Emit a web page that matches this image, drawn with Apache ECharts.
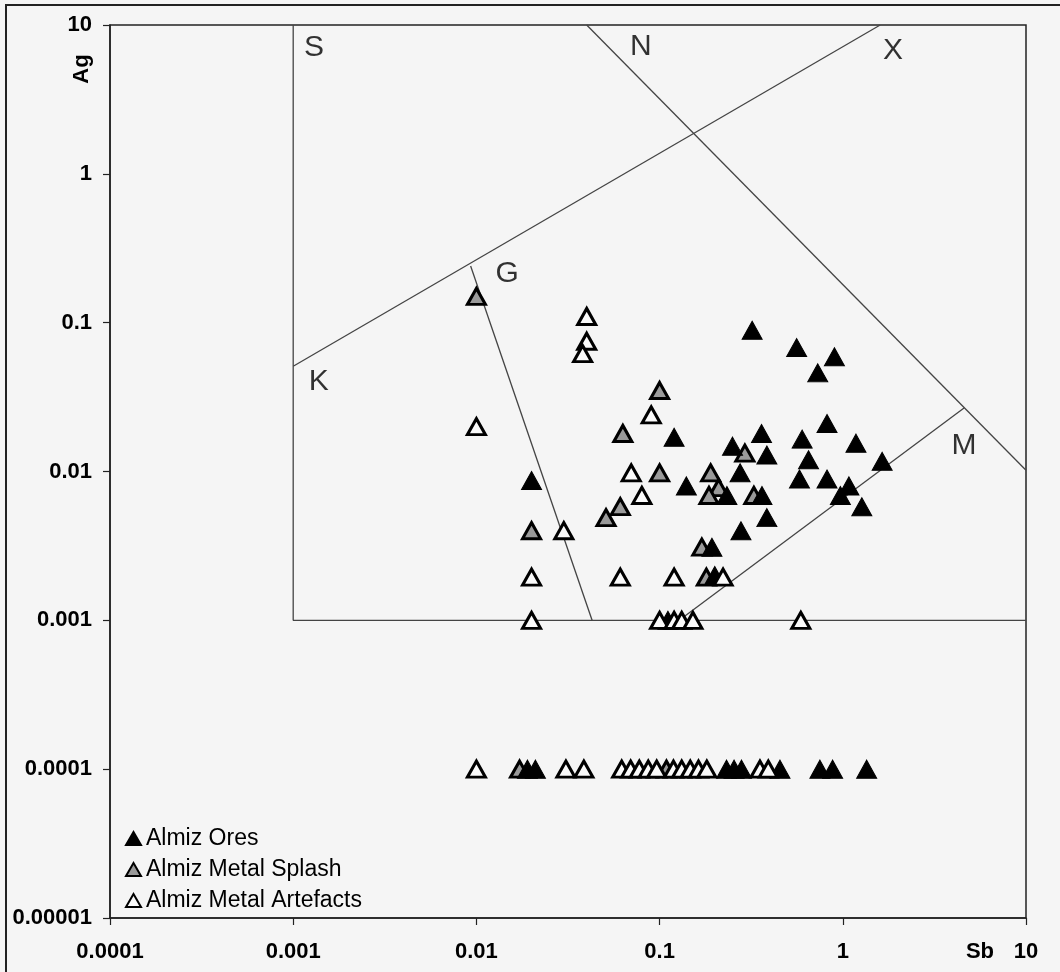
<!DOCTYPE html>
<html>
<head>
<meta charset="utf-8">
<script src="https://cdn.jsdelivr.net/npm/echarts@6/dist/echarts.min.js"></script>
<style>
html,body{margin:0;padding:0;background:#f5f5f5;}
#chart{width:1060px;height:972px;}
</style>
</head>
<body>
<div id="chart"></div>
<script>
// ---- tick labels ----
var xTickLabels = ['0.0001', '0.001', '0.01', '0.1', '1', '10'];
var yTickLabels = ['0.00001', '0.0001', '0.001', '0.01', '0.1', '1', '10'];

// ---- Almiz Ores (Sb, Ag) ----
var oresSb = [0.32, 0.56, 0.9, 0.73, 0.82, 0.36, 0.6, 1.18, 0.12, 0.25, 0.385, 0.65, 1.64,
  0.275, 0.58, 0.82, 1.08, 0.97, 1.27, 0.14, 0.233, 0.362, 0.385, 0.278, 0.193, 0.2, 0.02, 0.111,
  0.019, 0.021, 0.232, 0.255, 0.28, 0.454, 0.75, 0.88, 1.35];
var oresAg = [0.089, 0.068, 0.059, 0.046, 0.021, 0.018, 0.0165, 0.0155, 0.017, 0.0148, 0.0129, 0.012, 0.0117,
  0.0098, 0.0089, 0.0089, 0.008, 0.0069, 0.0058, 0.008, 0.0069, 0.0069, 0.0049, 0.004, 0.0031, 0.002, 0.0087, 0.001,
  0.0001, 0.0001, 0.0001, 0.0001, 0.0001, 0.0001, 0.0001, 0.0001, 0.0001];

// ---- Almiz Metal Splash (Sb, Ag) ----
var splashSb = [0.01, 0.1, 0.063, 0.292, 0.19, 0.1, 0.21, 0.186, 0.327, 0.061, 0.051, 0.02, 0.17, 0.18,
  0.0172, 0.109];
var splashAg = [0.15, 0.035, 0.018, 0.0133, 0.0098, 0.0098, 0.0078, 0.0069, 0.0069, 0.0058, 0.0049, 0.004, 0.0031, 0.00195,
  0.0001, 0.0001];

// ---- Almiz Metal Artefacts (Sb, Ag) ----
var artefactsSb = [0.04, 0.04, 0.038, 0.09, 0.01, 0.07, 0.08, 0.03, 0.02, 0.061, 0.12, 0.222,
  0.02, 0.1, 0.12, 0.132, 0.152, 0.59,
  0.01, 0.0308, 0.0386, 0.0621, 0.0695, 0.0775, 0.0867, 0.0964, 0.119, 0.132, 0.147, 0.163, 0.181, 0.353, 0.392];
var artefactsAg = [0.11, 0.075, 0.062, 0.024, 0.02, 0.0098, 0.0069, 0.004, 0.00195, 0.00195, 0.00195, 0.00195,
  0.001, 0.001, 0.001, 0.001, 0.001, 0.001,
  0.0001, 0.0001, 0.0001, 0.0001, 0.0001, 0.0001, 0.0001, 0.0001, 0.0001, 0.0001, 0.0001, 0.0001, 0.0001, 0.0001, 0.0001];

// ---- field boundaries (Sb, Ag) ----
var boundaryS = [[0.001, 10], [0.001, 0.001], [10, 0.001]];
var boundaryKX = [[0.001, 0.051], [1.6, 10]];
var boundaryG = [[0.0093, 0.24], [0.0428, 0.001]];
var boundaryN = [[0.04, 10], [10, 0.0102]];
var boundaryM = [[4.59, 0.0267], [0.128, 0.001]];

// ---- field labels ----
var fieldNames = ['S', 'N', 'X', 'G', 'K', 'M'];
var fieldSb = [0.0013, 0.079, 1.88, 0.0147, 0.00138, 4.59];
var fieldAg = [7.0, 7.1, 6.7, 0.212, 0.0399, 0.0150];

var seriesNames = ['Almiz Ores', 'Almiz Metal Splash', 'Almiz Metal Artefacts'];

function zip(a, b) { return a.map(function (v, i) { return [v, b[i]]; }); }

var FONT = 'Liberation Sans, Arial, sans-serif';
var chart = echarts.init(document.getElementById('chart'), null, { renderer: 'canvas' });

function boundary(data) {
  return {
    type: 'line', data: data, symbol: 'none', silent: true, z: 1,
    lineStyle: { color: '#444', width: 1.3 }, animation: false
  };
}

var option = {
  backgroundColor: '#f5f5f5',
  animation: false,
  grid: { left: 110, top: 25, right: 34, bottom: 54, show: true, borderColor: '#222', borderWidth: 1.5, backgroundColor: 'transparent' },
  xAxis: {
    type: 'log', logBase: 10, min: 0.0001, max: 10,
    axisLine: { show: true, lineStyle: { color: '#222', width: 1.5 } },
    axisTick: { show: true, length: 7, lineStyle: { color: '#222', width: 1.2 } },
    minorTick: { show: false },
    splitLine: { show: false },
    axisLabel: {
      margin: 23, color: '#000', fontFamily: FONT, fontSize: 22, fontWeight: 'bold',
      formatter: function (v) {
        var k = Math.round(Math.log(v) / Math.LN10);
        return xTickLabels[k + 4] || '';
      }
    }
  },
  yAxis: {
    type: 'log', logBase: 10, min: 0.00001, max: 10,
    axisLine: { show: true, lineStyle: { color: '#222', width: 1.5 } },
    axisTick: { show: true, length: 7, lineStyle: { color: '#222', width: 1.2 } },
    minorTick: { show: false },
    splitLine: { show: false },
    axisLabel: {
      margin: 18, color: '#000', fontFamily: FONT, fontSize: 22, fontWeight: 'bold',
      formatter: function (v) {
        var k = Math.round(Math.log(v) / Math.LN10);
        return yTickLabels[k + 5] || '';
      }
    }
  },
  legend: {
    orient: 'vertical', left: 120, top: 822, itemGap: 8,
    itemWidth: 15, itemHeight: 13,
    data: seriesNames,
    textStyle: { fontFamily: FONT, fontSize: 23, color: '#000', lineHeight: 22 },
    selectedMode: false
  },
  graphic: [
    { type: 'rect', z: -10, silent: true, shape: { x: 6, y: 5, width: 1200, height: 1200 }, style: { fill: 'none', stroke: '#222', lineWidth: 2 } },
    { type: 'text', x: 82, y: 69, rotation: Math.PI / 2, style: { text: 'Ag', font: 'bold 22px ' + FONT, fill: '#000', align: 'center', verticalAlign: 'middle' } },
    { type: 'text', x: 980, y: 952, style: { text: 'Sb', font: 'bold 22px ' + FONT, fill: '#000', align: 'center', verticalAlign: 'middle' } }
  ],
  series: [
    boundary(boundaryS), boundary(boundaryKX), boundary(boundaryG), boundary(boundaryN), boundary(boundaryM),
    {
      type: 'scatter', silent: true, z: 2,
      data: fieldNames.map(function (n, i) { return { name: n, value: [fieldSb[i], fieldAg[i]] }; }),
      symbolSize: 1, itemStyle: { color: 'transparent' },
      label: { show: true, position: 'inside', formatter: '{b}', fontFamily: FONT, fontSize: 30, color: '#000' }
    },
    {
      name: seriesNames[1], type: 'scatter', symbol: 'triangle', symbolSize: [18, 16], z: 3,
      data: zip(splashSb, splashAg),
      itemStyle: { color: '#9a9a9a', borderColor: '#000', borderWidth: 3, opacity: 1 }
    },
    {
      name: seriesNames[0], type: 'scatter', symbol: 'triangle', symbolSize: [20, 18], z: 4,
      data: zip(oresSb, oresAg),
      itemStyle: { color: '#000', borderColor: '#000', borderWidth: 1, opacity: 1 }
    },
    {
      name: seriesNames[2], type: 'scatter', symbol: 'triangle', symbolSize: [18, 16], z: 5,
      data: zip(artefactsSb, artefactsAg),
      itemStyle: { color: '#fafafa', borderColor: '#000', borderWidth: 3, opacity: 1 }
    }
  ]
};
chart.setOption(option);
</script>
</body>
</html>
